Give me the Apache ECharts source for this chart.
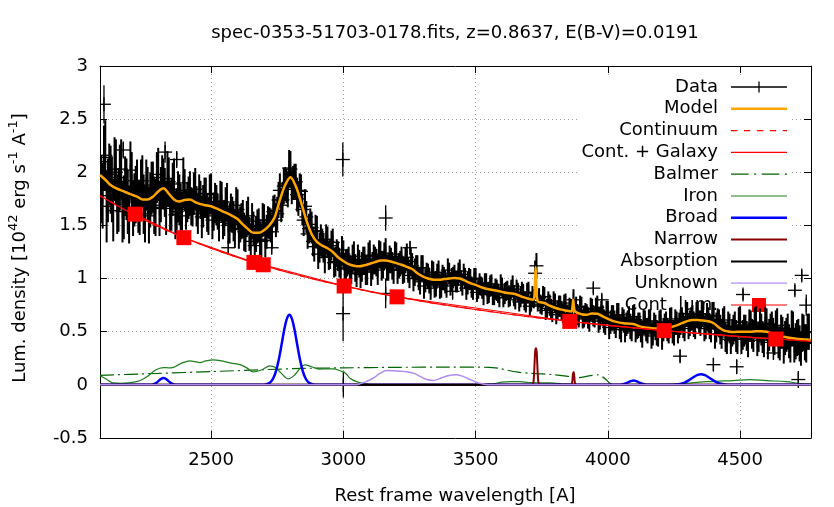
<!DOCTYPE html>
<html>
<head>
<meta charset="utf-8">
<script src="https://cdn.jsdelivr.net/npm/echarts@6/dist/echarts.min.js"></script>
<style>
html, body { margin: 0; padding: 0; background: #fff; }
#chart { width: 834px; height: 507px; }
</style>
</head>
<body>
<div id="chart"></div>
<script>
// spectrum fit: data with error bars plus model components
var FONT = 'DejaVu Sans';

// observed data (rest wavelength, flux, error), read in two interleaved passes
var dataWave = [
  2080,2090,2100,2110,2120,2130,2140,2150,2160,2170,
  2180,2190,2200,2210,2220,2230,2240,2250,2260,2270,
  2280,2290,2300,2310,2320,2330,2340,2350,2360,2370,
  2380,2390,2400,2410,2420,2430,2440,2450,2460,2470,
  2480,2490,2500,2510,2520,2530,2540,2550,2560,2570,
  2580,2590,2600,2610,2620,2630,2640,2650,2660,2670,
  2680,2690,2700,2710,2720,2730,2740,2750,2760,2770,
  2780,2790,2800,2810,2820,2830,2840,2850,2860,2870,
  2880,2890,2900,2910,2920,2930,2940,2950,2960,2970,
  2980,2990,3000,3010,3020,3030,3040,3050,3060,3070,
  3080,3090,3100,3110,3120,3130,3140,3150,3160,3170,
  3180,3190,3200,3210,3220,3230,3240,3250,3260,3270,
  3280,3290,3300,3310,3320,3330,3340,3350,3360,3370,
  3380,3390,3400,3410,3420,3430,3440,3450,3460,3470,
  3480,3490,3500,3510,3520,3530,3540,3550,3560,3570,
  3580,3590,3600,3610,3620,3630,3640,3650,3660,3670,
  3680,3690,3700,3710,3720,3730,3740,3750,3760,3770,
  3780,3790,3800,3810,3820,3830,3840,3850,3860,3870,
  3880,3890,3900,3910,3920,3930,3940,3950,3960,3970,
  3980,3990,4000,4010,4020,4030,4040,4050,4060,4070,
  4080,4090,4100,4110,4120,4130,4140,4150,4160,4170,
  4180,4190,4200,4210,4220,4230,4240,4250,4260,4270,
  4280,4290,4300,4310,4320,4330,4340,4350,4360,4370,
  4380,4390,4400,4410,4420,4430,4440,4450,4460,4470,
  4480,4490,4500,4510,4520,4530,4540,4550,4560,4570,
  4580,4590,4600,4610,4620,4630,4640,4650,4660,4670,
  4680,4690,4700,4710,4720,4730,4740,4750,4760
];
var dataFlux = [
  2.10,1.78,2.16,1.83,1.93,1.64,2.00,1.74,2.03,1.67,1.84,1.60,
  1.92,1.74,1.84,1.67,1.92,1.61,1.80,1.74,1.86,1.67,1.98,1.79,1.89,1.66,1.91,1.70,1.89,1.63,1.74,1.59,
  1.83,1.72,1.80,1.67,1.84,1.61,1.74,1.68,1.76,1.59,1.80,1.63,1.69,1.53,1.72,1.57,1.72,1.52,1.60,1.47,
  1.65,1.51,1.56,1.42,1.59,1.35,1.47,1.42,1.50,1.35,
  1.55,1.44,1.52,1.44,1.64,1.61,1.83,1.74,1.89,1.84,2.03,1.90,1.91,1.75,1.82,1.55,1.58,1.47,1.48,1.30,
  1.44,1.29,1.33,1.20,1.35,1.23,1.34,1.16,1.21,1.09,
  1.23,1.13,1.17,1.08,1.21,1.05,1.14,1.11,1.17,1.07,1.22,1.12,1.17,1.08,1.22,1.13,1.24,1.11,1.17,1.08,
  1.21,1.12,1.17,1.08,1.20,1.03,1.12,1.06,1.10,0.97,1.10,0.98,1.02,0.91,1.04,0.95,1.06,0.94,1.00,0.93,
  1.05,0.99,1.03,0.97,1.07,0.94,1.00,0.96,0.99,0.90,1.00,0.91,0.93,0.85,0.95,0.87,0.95,0.85,0.89,0.82,
  0.92,0.86,0.89,0.83,0.93,0.80,0.87,0.83,0.86,0.77,0.87,0.78,0.81,1.12,0.82,0.75,0.83,0.72,0.75,0.68,
  0.77,0.70,0.74,0.67,0.77,0.64,0.71,0.80,0.73,0.63,0.73,0.64,0.67,0.60,0.71,0.64,0.73,0.62,0.65,0.58,
  0.68,0.59,0.63,0.55,0.66,0.52,0.60,0.57,0.62,0.52,0.64,0.54,0.57,0.47,0.59,0.51,0.60,0.48,0.54,0.47,
  0.59,0.52,0.57,0.50,0.62,0.49,0.58,0.56,0.62,0.53,0.67,0.58,0.63,0.54,0.66,0.58,0.67,0.55,0.61,0.53,
  0.65,0.54,0.58,0.48,0.61,0.43,0.53,0.49,0.55,0.43,0.59,0.47,0.52,0.41,0.56,0.46,0.59,0.45,0.52,0.42,
  0.57,0.47,0.53,0.43,0.56,0.39,0.49,0.44,0.50,0.37,0.53,0.41,0.45,0.34,0.49,0.39,0.50
];
var dataErr = [
  0.34,0.31,0.33,0.30,0.32,0.29,0.31,0.30,0.28,0.30,0.29,0.27,
  0.27,0.25,0.28,0.26,0.24,0.27,0.25,0.26,0.24,0.27,0.25,0.26,0.24,0.25,0.23,0.25,0.24,0.22,0.24,0.23,
  0.20,0.19,0.21,0.18,0.20,0.19,0.18,0.20,0.19,0.18,0.19,0.18,0.19,0.18,0.19,0.17,0.18,0.19,0.17,0.18,
  0.19,0.17,0.18,0.17,0.18,0.17,0.16,0.17,0.16,0.17,
  0.15,0.16,0.15,0.16,0.15,0.16,0.16,0.17,0.16,0.17,0.17,0.16,0.17,0.16,0.16,0.15,0.15,0.14,0.15,0.14,
  0.15,0.14,0.14,0.15,0.14,0.14,0.13,0.14,0.14,0.13,
  0.13,0.14,0.13,0.13,0.14,0.13,0.13,0.14,0.13,0.13,0.14,0.13,0.13,0.14,0.13,0.13,0.14,0.13,0.12,0.13,
  0.13,0.12,0.13,0.12,0.13,0.12,0.12,0.13,0.12,0.12,0.12,0.11,0.12,0.11,0.12,0.12,0.11,0.12,0.11,0.11,
  0.10,0.11,0.10,0.10,0.11,0.10,0.10,0.11,0.10,0.10,0.10,0.10,0.09,0.10,0.10,0.10,0.09,0.10,0.10,0.09,
  0.09,0.10,0.09,0.09,0.10,0.09,0.09,0.10,0.09,0.09,0.10,0.09,0.09,0.12,0.09,0.09,0.09,0.09,0.10,0.09,
  0.09,0.09,0.10,0.09,0.09,0.10,0.09,0.10,0.10,0.09,0.10,0.10,0.09,0.10,0.10,0.10,0.11,0.10,0.10,0.11,
  0.11,0.11,0.12,0.11,0.11,0.12,0.11,0.11,0.12,0.11,0.12,0.11,0.11,0.12,0.11,0.12,0.11,0.11,0.12,0.11,
  0.12,0.11,0.12,0.11,0.11,0.12,0.11,0.12,0.11,0.12,0.11,0.12,0.12,0.11,0.12,0.12,0.11,0.12,0.12,0.13,
  0.13,0.14,0.13,0.14,0.13,0.14,0.14,0.13,0.14,0.14,0.15,0.14,0.14,0.15,0.14,0.15,0.15,0.14,0.15,0.16,
  0.15,0.15,0.16,0.15,0.16,0.16,0.15,0.16,0.17,0.16,0.16,0.17,0.17,0.16,0.17,0.18,0.17
];
var dataWave2 = [
  2085,2095,2105,2115,2125,2135,2145,2155,2165,2175,
  2185,2195,2205,2215,2225,2235,2245,2255,2265,2275,
  2285,2295,2305,2315,2325,2335,2345,2355,2365,2375,
  2385,2395,2405,2415,2425,2435,2445,2455,2465,2475,
  2485,2495,2505,2515,2525,2535,2545,2555,2565,2575,
  2585,2595,2605,2615,2625,2635,2645,2655,2665,2675,
  2685,2695,2705,2715,2725,2735,2745,2755,2765,2775,
  2785,2795,2805,2815,2825,2835,2845,2855,2865,2875,
  2885,2895,2905,2915,2925,2935,2945,2955,2965,2975,
  2985,2995,3005,3015,3025,3035,3045,3055,3065,3075,
  3085,3095,3105,3115,3125,3135,3145,3155,3165,3175,
  3185,3195,3205,3215,3225,3235,3245,3255,3265,3275,
  3285,3295,3305,3315,3325,3335,3345,3355,3365,3375,
  3385,3395,3405,3415,3425,3435,3445,3455,3465,3475,
  3485,3495,3505,3515,3525,3535,3545,3555,3565,3575,
  3585,3595,3605,3615,3625,3635,3645,3655,3665,3675,
  3685,3695,3705,3715,3725,3735,3745,3755,3765,3775,
  3785,3795,3805,3815,3825,3835,3845,3855,3865,3875,
  3885,3895,3905,3915,3925,3935,3945,3955,3965,3975,
  3985,3995,4005,4015,4025,4035,4045,4055,4065,4075,
  4085,4095,4105,4115,4125,4135,4145,4155,4165,4175,
  4185,4195,4205,4215,4225,4235,4245,4255,4265,4275,
  4285,4295,4305,4315,4325,4335,4345,4355,4365,4375,
  4385,4395,4405,4415,4425,4435,4445,4455,4465,4475,
  4485,4495,4505,4515,4525,4535,4545,4555,4565,4575,
  4585,4595,4605,4615,4625,4635,4645,4655,4665,4675,
  4685,4695,4705,4715,4725,4735,4745,4755
];
var dataFlux2 = [
  1.84,2.14,1.68,1.98,1.84,2.03,1.70,1.95,1.63,1.87,1.72,2.02,
  1.66,1.79,1.68,1.86,1.70,1.88,1.59,1.85,1.69,1.95,1.66,1.91,1.81,1.94,1.68,1.84,1.60,1.77,1.67,1.90,
  1.65,1.76,1.68,1.80,1.68,1.80,1.58,1.76,1.62,1.79,1.55,1.71,1.63,1.73,1.55,1.68,1.50,1.62,1.54,1.69,
  1.46,1.54,1.44,1.56,1.42,1.54,1.31,1.49,1.37,1.55,
  1.36,1.53,1.50,1.63,1.55,1.74,1.69,1.87,1.87,2.04,1.86,1.91,1.79,1.83,1.65,1.68,1.42,1.51,1.35,1.45,
  1.23,1.36,1.29,1.37,1.21,1.31,1.15,1.24,1.15,1.27,
  1.10,1.15,1.09,1.18,1.10,1.18,1.04,1.17,1.08,1.21,1.06,1.18,1.15,1.23,1.12,1.21,1.10,1.18,1.12,1.23,
  1.08,1.14,1.08,1.17,1.08,1.16,1.00,1.10,1.00,1.10,0.93,1.04,0.98,1.06,0.94,1.03,0.92,1.01,0.97,1.08,
  0.95,1.01,0.97,1.04,0.98,1.04,0.91,1.00,0.92,1.00,0.87,0.95,0.91,0.96,0.86,0.93,0.84,0.90,0.86,0.94,
  0.82,0.88,0.83,0.90,0.84,0.90,0.78,0.87,0.79,0.87,0.74,0.83,1.05,0.78,0.76,0.83,0.70,0.79,0.71,0.79,
  0.66,0.74,0.70,0.75,0.66,0.72,0.70,0.71,0.66,0.74,0.62,0.67,0.63,0.71,0.65,0.72,0.60,0.69,0.60,0.68,
  0.54,0.63,0.59,0.65,0.54,0.62,0.52,0.59,0.55,0.64,0.51,0.56,0.51,0.59,0.52,0.60,0.46,0.57,0.49,0.59,
  0.45,0.56,0.52,0.60,0.50,0.59,0.50,0.59,0.56,0.67,0.55,0.62,0.57,0.66,0.59,0.67,0.53,0.64,0.55,0.65,
  0.48,0.59,0.52,0.59,0.45,0.55,0.42,0.52,0.46,0.59,0.43,0.51,0.46,0.56,0.48,0.58,0.42,0.56,0.45,0.58,
  0.40,0.52,0.47,0.54,0.40,0.50,0.37,0.47,0.41,0.53,0.37,0.44,0.39,0.49,0.40,0.50
];
var dataErr2 = [
  0.32,0.30,0.34,0.29,0.31,0.30,0.28,0.31,0.29,0.28,0.30,0.27,
  0.26,0.27,0.25,0.26,0.28,0.24,0.26,0.25,0.27,0.24,0.26,0.25,0.23,0.26,0.24,0.25,0.23,0.24,0.22,0.24,
  0.19,0.20,0.18,0.20,0.19,0.18,0.20,0.19,0.18,0.19,0.18,0.19,0.17,0.19,0.18,0.18,0.17,0.18,0.19,0.17,
  0.18,0.17,0.18,0.17,0.16,0.17,0.17,0.16,0.17,0.16,
  0.16,0.15,0.16,0.15,0.16,0.17,0.16,0.17,0.16,0.17,0.16,0.17,0.16,0.16,0.15,0.16,0.14,0.15,0.14,0.15,
  0.14,0.15,0.14,0.14,0.13,0.14,0.14,0.13,0.14,0.13,
  0.14,0.13,0.13,0.14,0.13,0.14,0.13,0.13,0.14,0.13,0.13,0.14,0.13,0.13,0.14,0.13,0.12,0.13,0.13,0.12,
  0.13,0.12,0.13,0.12,0.12,0.13,0.12,0.12,0.11,0.12,0.12,0.11,0.12,0.11,0.12,0.11,0.11,0.12,0.11,0.11,
  0.11,0.10,0.10,0.11,0.10,0.10,0.11,0.10,0.10,0.10,0.09,0.10,0.10,0.09,0.10,0.10,0.09,0.10,0.09,0.10,
  0.09,0.09,0.10,0.09,0.10,0.09,0.09,0.10,0.09,0.09,0.09,0.10,0.12,0.09,0.09,0.10,0.09,0.09,0.10,0.09,
  0.09,0.10,0.09,0.10,0.09,0.10,0.10,0.09,0.10,0.10,0.09,0.10,0.10,0.11,0.10,0.10,0.11,0.10,0.11,0.11,
  0.11,0.12,0.11,0.12,0.11,0.11,0.12,0.11,0.12,0.11,0.11,0.12,0.11,0.12,0.11,0.11,0.12,0.11,0.12,0.11,
  0.12,0.11,0.11,0.12,0.11,0.12,0.11,0.12,0.12,0.11,0.12,0.11,0.12,0.12,0.11,0.12,0.12,0.13,0.12,0.13,
  0.14,0.13,0.14,0.13,0.14,0.14,0.13,0.14,0.15,0.14,0.14,0.15,0.14,0.15,0.14,0.15,0.15,0.16,0.15,0.15,
  0.16,0.15,0.16,0.16,0.15,0.16,0.17,0.16,0.16,0.17,0.16,0.17,0.17,0.18,0.17,0.17
];
// stray pixels (sky lines, bad pixels)
var oddWave = [2095, 2168, 2326, 2370, 2565, 2729, 2998, 2999, 3000, 3160, 3160, 3252, 3413, 3945, 3977, 4273, 4399, 4487, 4511, 4626, 4707, 4720, 4733, 4750];
var oddFlux = [2.64, 2.21, 2.19, 2.12, 1.29, 1.29, 2.12, 0.67, 0.00, 1.57, 0.86, 1.29, 0.88, 0.91, 0.80, 0.27, 0.19, 0.17, 0.85, 0.30, 0.89, 0.05, 1.03, 0.75];
var oddErr  = [0.18, 0.08, 0.10, 0.08, 0.06, 0.06, 0.16, 0.26, 0.12, 0.12, 0.14, 0.06, 0.08, 0.05, 0.05, 0.06, 0.06, 0.07, 0.05, 0.06, 0.05, 0.08, 0.05, 0.10];

// total model
var modelWave = [2080,2100,2120,2140,2160,2180,2200,2220,2240,2260,2280,2300,2320,2340,2360,2380,2400,2420,2440,2460,
  2480,2500,2520,2540,2560,2580,2600,2620,2640,2660,2680,2700,2720,2740,2760,2780,2800,2820,2840,2860,
  2880,2900,2920,2940,2960,2980,3000,3020,3040,3060,3080,3100,3120,3140,3160,3180,3200,3220,3240,3260,
  3280,3300,3320,3340,3360,3380,3400,3420,3440,3460,3480,3500,3520,3540,3560,3580,3600,3620,3640,3660,
  3680,3700,3718,3723,3727,3731,3736,3760,3780,3800,3820,3840,3862,3866,3869,3872,3876,3900,3920,3940,
  3960,3980,4000,4020,4040,4060,4080,4100,4120,4140,4160,4180,4200,4220,4240,4260,4280,4300,4320,4340,
  4360,4380,4400,4420,4440,4460,4480,4500,4520,4540,4560,4580,4600,4620,4640,4660,4680,4700,4720,4740,4768];
var modelFlux = [1.975,1.93,1.88,1.85,1.83,1.81,1.79,1.77,1.745,1.745,1.77,1.82,1.85,1.80,1.745,1.725,1.74,1.745,1.72,1.70,
  1.69,1.68,1.66,1.637,1.615,1.59,1.56,1.51,1.465,1.43,1.43,1.455,1.50,1.575,1.74,1.88,1.954,1.87,1.72,1.55,
  1.42,1.345,1.31,1.285,1.25,1.20,1.165,1.135,1.12,1.115,1.125,1.14,1.155,1.17,1.17,1.16,1.145,1.13,1.11,1.09,
  1.05,1.02,1.00,0.99,0.988,0.995,1.00,1.005,1.00,0.98,0.957,0.94,0.92,0.905,0.895,0.885,0.875,0.865,0.86,0.845,
  0.825,0.81,0.80,0.86,1.11,0.86,0.785,0.77,0.745,0.725,0.71,0.70,0.69,0.73,0.80,0.73,0.69,0.665,0.66,0.672,
  0.67,0.645,0.62,0.60,0.588,0.58,0.575,0.57,0.55,0.54,0.535,0.53,0.53,0.533,0.545,0.56,0.58,0.60,0.61,0.61,
  0.605,0.598,0.58,0.54,0.51,0.50,0.498,0.50,0.50,0.50,0.505,0.505,0.50,0.485,0.465,0.455,0.445,0.438,0.432,0.428,0.423];

// power-law continuum (continuum = cont. + galaxy here)
var contWave = [2080,2200,2300,2400,2500,2600,2700,2800,2900,3000,3100,3200,3300,3400,3500,3600,3700,3800,3900,4000,
  4100,4200,4300,4400,4500,4600,4700,4768];
var contFlux = [1.78,1.612,1.490,1.382,1.286,1.199,1.122,1.052,0.988,0.931,0.878,0.830,0.786,0.746,0.709,0.674,0.642,0.613,0.585,0.559,
  0.536,0.513,0.492,0.473,0.454,0.437,0.421,0.410];

var balmerWave = [2080,2300,2500,2700,2850,3000,3200,3400,3550,3590,3625,3660,3700,3750,3800,3850,3880,3910,3940,3962,3980,3995,4010,4025,4768];
var balmerFlux = [0.09,0.108,0.125,0.143,0.155,0.16,0.165,0.167,0.165,0.155,0.135,0.12,0.11,0.103,0.095,0.08,0.065,0.075,0.09,0.094,0.075,0.045,0.01,0,0];

var ironWave = [2080,2100,2115,2130,2160,2190,2218,2240,2265,2290,2319,2340,2357,2385,2420,2440,2458,2480,2508,2540,
  2575,2609,2635,2660,2690,2723,2745,2765,2792,2815,2835,2855,2880,2912,2935,2962,2990,3008,3025,3050,
  3080,3110,3200,3500,3540,3566,3600,3630,3667,3700,3730,3780,3843,3900,4018,4100,4223,4300,4374,4420,
  4474,4537,4600,4676,4720,4768];
var ironFlux = [0.085,0.06,0.035,0.018,0.015,0.02,0.03,0.05,0.09,0.14,0.163,0.16,0.165,0.2,0.226,0.218,0.21,0.225,0.235,0.225,
  0.205,0.19,0.16,0.122,0.14,0.179,0.16,0.11,0.056,0.09,0.15,0.188,0.17,0.148,0.15,0.15,0.13,0.11,0.063,0.03,
  0.012,0.003,0,0,0.005,0.01,0.025,0.03,0.03,0.022,0.02,0.018,0.006,0.003,0,0.005,0.005,0.015,0.03,0.035,
  0.04,0.05,0.04,0.03,0.015,0.005];

var broadWave = [2080,2250,2270,2280,2290,2300,2310,2320,2330,2340,2350,2360,2370,2390,
  2690,2706,2716,2726,2736,2746,2756,2766,2776,2786,2796,2806,2816,2826,2836,2846,2856,2866,2876,2886,2900,
  4040,4057,4067,4077,4087,4097,4107,4117,4127,4137,4155,
  4250,4262,4277,4292,4307,4322,4337,4352,4367,4382,4397,4412,4427,4442,4460,4768];
var broadFlux = [0,0,0.001,0.004,0.014,0.033,0.055,0.065,0.055,0.033,0.014,0.004,0.001,0,
  0,0.004,0.011,0.029,0.067,0.134,0.238,0.372,0.511,0.619,0.66,0.619,0.511,0.372,0.238,0.134,0.067,0.029,0.011,0.004,0,
  0,0.005,0.013,0.024,0.035,0.04,0.035,0.024,0.013,0.005,0,
  0,0.004,0.01,0.023,0.044,0.069,0.091,0.10,0.091,0.069,0.044,0.023,0.01,0.004,0,0];

var narrowWave = [2080,3714,3719,3722,3725,3728,3731,3734,3737,3742,3860,3865,3868,3871,3874,3879,4768];
var narrowFlux = [0,0,0.03,0.15,0.31,0.345,0.31,0.15,0.03,0,0,0.02,0.10,0.12,0.05,0,0];

var absWave = [2080, 4768];
var absFlux = [0, 0];

var unknownWave = [2080,3040,3063,3090,3113,3140,3164,3190,3214,3240,3265,3290,3315,3340,3370,3400,3425,3450,3475,3500,3520,3545,4768];
var unknownFlux = [0,0,0.01,0.035,0.063,0.11,0.135,0.133,0.128,0.124,0.11,0.08,0.05,0.042,0.065,0.088,0.095,0.082,0.055,0.028,0.012,0,0];

// continuum luminosity points
var lumWave = [2213, 2397, 2662, 2697, 3003, 3203, 3856, 4213, 4635];
var lumFlux = [1.606, 1.385, 1.152, 1.13, 0.93, 0.828, 0.597, 0.51, 0.431];

var titleText = 'spec-0353-51703-0178.fits, z=0.8637, E(B-V)=0.0191';
var xName = 'Rest frame wavelength [A]';

function pairs(w, f) {
  return w.map(function (x, i) { return [x, f[i]]; });
}

// 4th value: 1 for the dense spectrum, 0 for stray pixels
var dataPoints = [];
var i;
for (i = 0; i < dataWave.length; i++) dataPoints.push([dataWave[i], dataFlux[i], dataErr[i], 1]);
for (i = 0; i < dataWave2.length; i++) dataPoints.push([dataWave2[i], dataFlux2[i], dataErr2[i], 1]);
for (i = 0; i < oddWave.length; i++) dataPoints.push([oddWave[i], oddFlux[i], oddErr[i], 0]);

// "+" point with vertical error bar, like gnuplot errorbars
function renderCross(params, api) {
  var x = api.value(0), f = api.value(1), e = api.value(2), dense = api.value(3);
  var p = api.coord([x, f]);
  var hi = api.coord([x, f + e]);
  var lo = api.coord([x, f - e]);
  var st = { stroke: '#000', lineWidth: 1.3 };
  var bar = { stroke: '#000', lineWidth: dense ? 2 : 1.3 };
  return {
    type: 'group',
    children: [
      { type: 'line', shape: { x1: p[0], y1: hi[1], x2: p[0], y2: lo[1] }, style: bar },
      { type: 'line', shape: { x1: p[0] - 7, y1: p[1], x2: p[0] + 7, y2: p[1] }, style: st },
      { type: 'line', shape: { x1: p[0], y1: p[1] - 7, x2: p[0], y2: p[1] + 7 }, style: st }
    ]
  };
}

function lineSeries(name, w, f, color, width, extra) {
  var s = {
    name: name,
    type: 'line',
    data: pairs(w, f),
    symbol: 'none',
    color: color,
    lineStyle: { color: color, width: width },
    z: 3
  };
  for (var k in extra) s[k] = extra[k];
  return s;
}

var chart = echarts.init(document.getElementById('chart'));

var axisText = { fontFamily: FONT, fontSize: 18, color: '#000' };
var gridLine = { show: true, lineStyle: { color: '#a0a0a0', width: 1, type: [1, 3] } };

var option = {
  animation: false,
  backgroundColor: '#fff',
  grid: { left: 100, right: 23, top: 66, bottom: 69 },
  graphic: [
    {
      type: 'text', x: 455, y: 33, z: 10,
      style: { text: titleText, fill: '#000', font: '18px "DejaVu Sans"', align: 'center', verticalAlign: 'middle' }
    },
    {
      type: 'text', x: 455, y: 496, z: 10,
      style: { text: xName, fill: '#000', font: '18px "DejaVu Sans"', align: 'center', verticalAlign: 'middle' }
    },
    {
      type: 'text', x: 20, y: 248, rotation: Math.PI / 2, z: 10,
      style: {
        text: '{n|Lum. density [10}{s|42}{n| erg s}{s|-1}{n| A}{s|-1}{n|]}',
        align: 'center', verticalAlign: 'middle',
        rich: {
          n: { fontFamily: FONT, fontSize: 18, fill: '#000', lineHeight: 26 },
          s: { fontFamily: FONT, fontSize: 13, fill: '#000', lineHeight: 13, verticalAlign: 'top' }
        }
      }
    }
  ],
  legend: {
    orient: 'vertical',
    align: 'right',
    right: 44,
    top: 75,
    z: 1,
    backgroundColor: '#fff',
    padding: [3, 3, 3, 4],
    itemWidth: 56,
    itemHeight: 14,
    itemGap: 3.8,
    selectedMode: false,
    itemStyle: { borderWidth: 0 },
    textStyle: { fontFamily: FONT, fontSize: 18, color: '#000', padding: [0, 8, 0, 0] },
    data: [
      { name: 'Data', icon: 'path://M0,4.85H56V6.15H0Z M27.35,0H28.65V11H27.35Z' },
      { name: 'Model', icon: 'path://M0,0H56V2.5H0Z' },
      { name: 'Continuum', icon: 'path://M0,0H6V1.2H0Z M12.5,0H18.5V1.2H12.5Z M25,0H31V1.2H25Z M37.5,0H43.5V1.2H37.5Z M50,0H54V1.2H50Z' },
      { name: 'Cont. + Galaxy', icon: 'path://M0,0H56V1.2H0Z' },
      { name: 'Balmer', icon: 'path://M0,0H16V1.2H0Z M21,0H23V1.2H21Z M28,0H44V1.2H28Z M49,0H51V1.2H49Z' },
      { name: 'Iron', icon: 'path://M0,0H56V1.2H0Z' },
      { name: 'Broad', icon: 'path://M0,0H56V2.5H0Z' },
      { name: 'Narrow', icon: 'path://M0,0H56V2H0Z' },
      { name: 'Absorption', icon: 'path://M0,0H56V2H0Z' },
      { name: 'Unknown', icon: 'path://M0,0H56V1.2H0Z' },
      { name: 'Cont. lum.', icon: 'path://M0,6.4H56V7.6H0Z M21,0H35V14H21Z' }
    ]
  },
  xAxis: [
    {
      type: 'value', position: 'bottom', min: 2080, max: 4768, minInterval: 500, maxInterval: 500,
      axisLine: { show: true, onZero: false, lineStyle: { color: '#000', width: 1 } },
      axisTick: { show: true, inside: true, length: 7, lineStyle: { color: '#000' } },
      axisLabel: Object.assign({ margin: 13, showMinLabel: false, showMaxLabel: false,
        formatter: function (v) { return String(v); } }, axisText),
      splitLine: gridLine
    },
    {
      type: 'value', position: 'top', min: 2080, max: 4768, minInterval: 500, maxInterval: 500,
      axisLine: { show: true, onZero: false, lineStyle: { color: '#000', width: 1 } },
      axisTick: { show: true, inside: true, length: 7, lineStyle: { color: '#000' } },
      axisLabel: { show: false },
      splitLine: { show: false }
    }
  ],
  yAxis: [
    {
      type: 'value', position: 'left', min: -0.5, max: 3, interval: 0.5,
      axisLine: { show: true, onZero: false, lineStyle: { color: '#000', width: 1 } },
      axisTick: { show: true, inside: true, length: 7, lineStyle: { color: '#000' } },
      axisLabel: Object.assign({ margin: 12, formatter: function (v) { return String(v); } }, axisText),
      splitLine: gridLine
    },
    {
      type: 'value', position: 'right', min: -0.5, max: 3, interval: 0.5,
      axisLine: { show: true, onZero: false, lineStyle: { color: '#000', width: 1 } },
      axisTick: { show: true, inside: true, length: 7, lineStyle: { color: '#000' } },
      axisLabel: { show: false },
      splitLine: { show: false }
    }
  ],
  series: [
    {
      name: 'Data',
      type: 'custom',
      renderItem: renderCross,
      data: dataPoints,
      encode: { x: 0, y: 1 },
      clip: true,
      color: '#000',
      itemStyle: { color: '#000' },
      z: 2
    },
    lineSeries('Model', modelWave, modelFlux, '#ffa500', 2.5, { smooth: 0.3 }),
    lineSeries('Continuum', contWave, contFlux, '#ff0000', 1.2, {
      smooth: true, lineStyle: { color: '#ff0000', width: 1.2, type: [5, 7] } }),
    lineSeries('Cont. + Galaxy', contWave, contFlux, '#ff0000', 1.2, { smooth: true }),
    lineSeries('Balmer', balmerWave, balmerFlux, '#006400', 1.2, {
      smooth: 0.2, lineStyle: { color: '#006400', width: 1.2, type: [14, 4, 2, 4] } }),
    lineSeries('Iron', ironWave, ironFlux, '#1e7d1e', 1.2, { smooth: 0.4 }),
    lineSeries('Broad', broadWave, broadFlux, '#0000ff', 2.5, { smooth: 0.3 }),
    lineSeries('Narrow', narrowWave, narrowFlux, '#8b0000', 2, { smooth: 0.2 }),
    lineSeries('Absorption', absWave, absFlux, '#000000', 2, {}),
    lineSeries('Unknown', unknownWave, unknownFlux, '#b08cf2', 1.5, { smooth: 0.4 }),
    {
      name: 'Cont. lum.',
      type: 'line',
      data: pairs(lumWave, lumFlux),
      symbol: 'rect',
      symbolSize: 15,
      color: '#ff0000',
      itemStyle: { color: '#ff0000', borderWidth: 0 },
      lineStyle: { color: '#ff0000', width: 1 },
      z: 4
    }
  ]
};

chart.setOption(option);
window.addEventListener('resize', function () {
  chart.resize();
});
</script>
</body>
</html>
